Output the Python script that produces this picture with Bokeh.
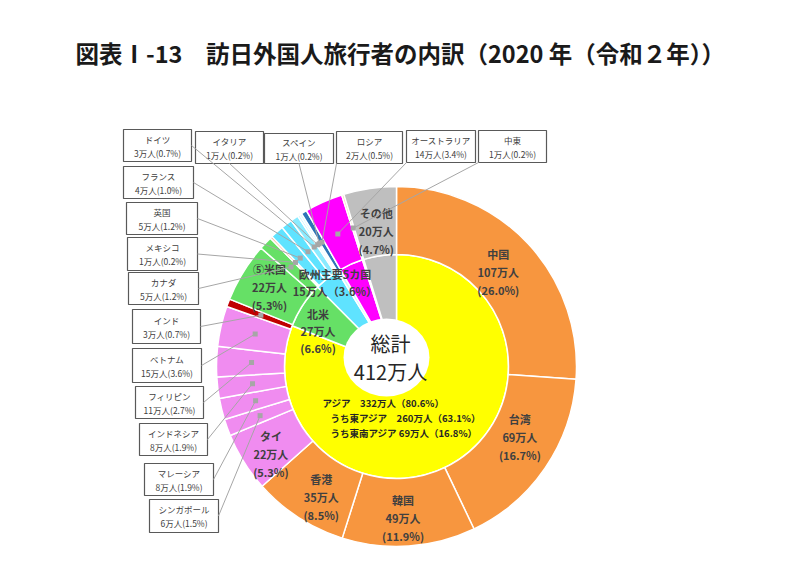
import math
from bokeh.plotting import figure
from bokeh.models import Range1d
from bokeh.core.properties import value
from bokeh.embed import file_html
from bokeh.resources import INLINE

# ---------------- data ----------------
title_text = "図表Ⅰ-13　訪日外国人旅行者の内訳（2020 年（令和２年））"

outer_names = ["中国", "台湾", "韓国", "香港", "タイ", "シンガポール", "マレーシア",
               "インドネシア", "フィリピン", "ベトナム", "インド", "米国", "カナダ",
               "メキシコ", "英国", "フランス", "ドイツ", "イタリア", "スペイン",
               "ロシア", "オーストラリア", "中東", "その他"]
outer_pct = [26.0, 16.7, 11.9, 8.5, 5.3, 1.5, 1.9, 1.9, 2.7, 3.6, 0.7, 5.3, 1.2,
             0.2, 1.2, 1.0, 0.7, 0.2, 0.2, 0.5, 3.4, 0.2, 4.7]
outer_man = [107, 69, 49, 35, 22, 6, 8, 8, 11, 15, 3, 22, 5,
             1, 5, 4, 3, 1, 1, 2, 14, 1, 20]

inner_names = ["アジア", "北米", "欧州主要5カ国", "ロシア", "オーストラリア", "中東", "その他"]
inner_pct = [80.6, 6.6, 3.6, 0.5, 3.4, 0.2, 4.7]
inner_man = [332, 27, 15, 2, 14, 1, 20]

total_label = "総計"
total_man = 412

asia_lines_names = ["アジア　", "うち東アジア　", "うち東南アジア "]
asia_lines_man = [332, 260, 69]
asia_lines_pct = [80.6, 63.1, 16.8]

display_names = {"米国": "⑤米国"}

# ---------------- styles / layout ----------------
FONT = value("Noto Sans CJK JP")
outer_colors = {
    "中国": "#F7963F", "台湾": "#F7963F", "韓国": "#F7963F", "香港": "#F7963F",
    "タイ": "#F08CF0", "シンガポール": "#F08CF0", "マレーシア": "#F08CF0",
    "インドネシア": "#F08CF0", "フィリピン": "#F08CF0", "ベトナム": "#F08CF0",
    "インド": "#C00000", "米国": "#66E066", "カナダ": "#66E066", "メキシコ": "#F4A07A",
    "英国": "#5FE3FF", "フランス": "#5FE3FF", "ドイツ": "#8AEBFF", "イタリア": "#B5F3FF",
    "スペイン": "#D5F8FF", "ロシア": "#2E75B6", "オーストラリア": "#FF00FF",
    "中東": "#FAD7B5", "その他": "#BFBFBF"}
inner_colors = {"アジア": "#FFFF00", "北米": "#66E066", "欧州主要5カ国": "#5FE3FF",
                "ロシア": "#C8F6FF", "オーストラリア": "#FF00FF", "中東": "#FAD7B5",
                "その他": "#BFBFBF"}

W, H = 784, 552
CX, CY = 396, 366          # pie centre (screen px)
R_OUT, R_MID = 180, 112
R_DOT = 145

# label placement inside segments: (radius, angle shift in degrees)
outer_label_layout = {"中国": (139, 0), "台湾": (142, -4.6), "韓国": (152, 1.5),
                      "香港": (151, -3), "タイ": (153, -2.7), "米国": (150, 0.5),
                      "その他": (137, 0)}
inner_label_layout = {"北米": (86, -9), "欧州主要5カ国": (104, 2)}

# callout boxes in screen px: left, right, top, bottom, anchor side
callout_layout = {
    "ドイツ": (123, 191, 129, 161, "r"), "イタリア": (195, 263, 131, 163, "b"),
    "スペイン": (264, 333, 133, 163, "b"), "ロシア": (336, 402, 131, 163, "bl"),
    "オーストラリア": (406, 475, 130, 162, "bl"), "中東": (478, 546, 130, 162, "bl"),
    "フランス": (123, 193, 166, 198, "r"), "英国": (126, 197, 202, 234, "r"),
    "メキシコ": (127, 197, 237, 270, "r"), "カナダ": (128, 198, 272, 304, "r"),
    "インド": (132, 200, 309, 343, "r"), "ベトナム": (132, 201, 348, 382, "r"),
    "フィリピン": (135, 203, 386, 418, "r"), "インドネシア": (139, 207, 423, 455, "r"),
    "マレーシア": (144, 213, 463, 495, "r"), "シンガポール": (149, 218, 499, 532, "r"),
}


def fx(X):
    return X


def fy(Y):
    return H - Y


def polar(theta_deg, r):
    t = math.radians(theta_deg)
    return CX + r * math.sin(t), CY - r * math.cos(t)


def spans(vals):
    tot = sum(vals)
    cum = 0.0
    out = []
    for v in vals:
        a0 = cum / tot * 360
        cum += v
        a1 = cum / tot * 360
        out.append((a0, a1))
    return out


p = figure(width=W, height=H, x_range=Range1d(0, W), y_range=Range1d(0, H),
           output_backend="svg", toolbar_location=None, min_border=0)
p.axis.visible = False
p.grid.visible = False
p.outline_line_color = None
p.background_fill_color = "white"

# ---- inner pie ----
isp = spans(inner_pct)
p.wedge(x=fx(CX), y=fy(CY), radius=R_MID,
        start_angle=[math.radians(90 - a0) for a0, a1 in isp],
        end_angle=[math.radians(90 - a1) for a0, a1 in isp],
        direction="clock",
        fill_color=[inner_colors[n] for n in inner_names],
        line_color="white", line_width=1.5)

# ---- outer ring ----
osp = spans(outer_pct)
p.annular_wedge(x=fx(CX), y=fy(CY), inner_radius=R_MID, outer_radius=R_OUT,
                start_angle=[math.radians(90 - a0) for a0, a1 in osp],
                end_angle=[math.radians(90 - a1) for a0, a1 in osp],
                direction="clock",
                fill_color=[outer_colors[n] for n in outer_names],
                line_color="white", line_width=1.5)

# ---- centre white ellipse with total ----
p.ellipse(x=fx(CX - 10), y=fy(CY - 9), width=86, height=78,
          fill_color="white", line_color=None)
p.text(x=[fx(CX - 6)] * 2, y=[fy(CY - 23), fy(CY + 5)],
       text=[total_label, f"{total_man}万人"], text_align="center", text_baseline="middle",
       text_font=FONT, text_font_size="20px", text_color="#262626")

# ---- asia block ----
ax, ay, at = [], [], []
for i, (n, m, pc) in enumerate(zip(asia_lines_names, asia_lines_man, asia_lines_pct)):
    ax.append(fx(CX - 74 + (0 if i == 0 else 8)))
    ay.append(fy(CY + 36 + 15 * i))
    at.append(f"{n}{m}万人（{pc:.1f}%）")
p.text(x=ax, y=ay, text=at, text_align="left", text_baseline="middle",
       text_font=FONT, text_font_size="9.5px", text_font_style="bold", text_color="#262626")

# ---- labels inside segments ----
lx, ly, lt = [], [], []
for n, m, pc, (a0, a1) in zip(outer_names, outer_man, outer_pct, osp):
    if n in outer_label_layout:
        r, sh = outer_label_layout[n]
        X, Y = polar((a0 + a1) / 2 + sh, r)
        lines = [display_names.get(n, n), f"{m}万人", f"({pc:.1f}%)"]
        for k, s in enumerate(lines):
            lx.append(fx(X))
            ly.append(fy(Y + (k - 1) * 18))
            lt.append(s)
for n, m, pc, (a0, a1) in zip(inner_names, inner_man, inner_pct, isp):
    if n in inner_label_layout:
        r, sh = inner_label_layout[n]
        X, Y = polar((a0 + a1) / 2 + sh, r)
        if n == "北米":
            lines = [n, f"{m}万人", f"({pc:.1f}%)"]
            offs = [-17, 0, 17]
        else:
            lines = [n, f"{m}万人（{pc:.1f}%）"]
            offs = [-8.5, 8.5]
        for s, o in zip(lines, offs):
            lx.append(fx(X))
            ly.append(fy(Y + o))
            lt.append(s)
p.text(x=lx, y=ly, text=lt, text_align="center", text_baseline="middle",
       text_font=FONT, text_font_size="11px", text_font_style="bold", text_color="#404040")

# ---- callouts ----
bl, br, bt, bb = [], [], [], []
tx, ty, tt = [], [], []
sx0, sy0, sx1, sy1 = [], [], [], []
for n, m, pc, (a0, a1) in zip(outer_names, outer_man, outer_pct, osp):
    if n not in callout_layout:
        continue
    x0, x1, y0, y1, side = callout_layout[n]
    bl.append(fx(x0)); br.append(fx(x1)); bt.append(fy(y0)); bb.append(fy(y1))
    xm, ym = (x0 + x1) / 2, (y0 + y1) / 2
    tx += [fx(xm), fx(xm)]
    ty += [fy(ym - 7), fy(ym + 7)]
    tt += [n, f"{m}万人({pc:.1f}%)"]
    DX, DY = polar((a0 + a1) / 2, R_DOT)
    if side == "r":
        AX, AY = x1, ym
    elif side == "b":
        AX, AY = xm, y1
    else:
        AX, AY = x0, y1
    sx0.append(fx(AX)); sy0.append(fy(AY)); sx1.append(fx(DX)); sy1.append(fy(DY))

p.quad(left=bl, right=br, top=bt, bottom=bb, fill_color="white",
       line_color="#595959", line_width=1.2)
p.text(x=tx, y=ty, text=tt, text_align="center", text_baseline="middle",
       text_font=FONT, text_font_size="8.5px", text_color="#404040")
p.segment(x0=sx0, y0=sy0, x1=sx1, y1=sy1, line_color="#A6A6A6", line_width=1)
p.scatter(x=sx1, y=sy1, size=5, marker="square", fill_color="#A6A6A6",
          line_color=None)

# ---- title ----
p.text(x=[fx(75)], y=[fy(52)], text=[title_text], text_align="left",
       text_baseline="middle", text_font=FONT, text_font_size="23.5px",
       text_font_style="bold", text_color="#1a1a1a")

open("out.html", "w").write(file_html(p, INLINE))
